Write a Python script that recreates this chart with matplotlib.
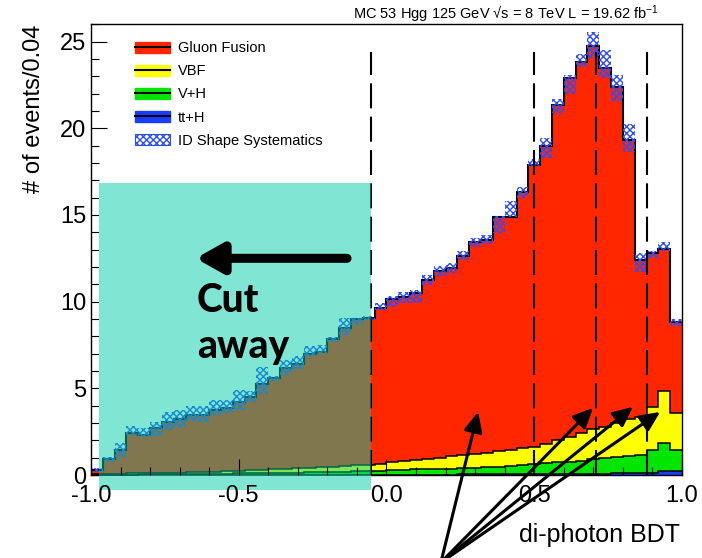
import numpy as np
import matplotlib
matplotlib.use("Agg")
import matplotlib.pyplot as plt
from matplotlib.patches import Patch, Rectangle
from matplotlib.lines import Line2D
from matplotlib.legend_handler import HandlerTuple
from matplotlib.ticker import MultipleLocator

plt.rcParams['font.family'] = ['Liberation Sans', 'DejaVu Sans']
plt.rcParams['mathtext.fontset'] = 'custom'
plt.rcParams['mathtext.rm'] = 'Liberation Sans'
plt.rcParams['mathtext.it'] = 'Liberation Sans:italic'
plt.rcParams['axes.unicode_minus'] = False
plt.rcParams['hatch.linewidth'] = 1.0

# di-photon BDT, 50 bins of 0.04 from -1 to 1
bdt_edges = np.linspace(-1.0, 1.0, 51)

# stack tops (cumulative): ggH on top of VBF on top of VH on top of ttH
stack_ggh = [0.28, 0.90, 1.44, 2.44, 2.31, 2.73, 3.04, 3.23, 3.46, 3.46,
             3.75, 3.85, 4.23, 4.52, 5.25, 5.58, 6.16, 6.39, 6.97, 7.12,
             7.83, 8.47, 8.99, 9.05, 9.62, 10.16, 10.25, 10.5, 11.26, 11.78,
             11.95, 12.65, 13.43, 13.57, 14.87, 14.9, 16.3, 17.9, 18.96, 21.32,
             22.9, 23.8, 24.73, 23.48, 22.4, 19.34, 12.41, 12.8, 13.05, 8.8]
stack_vbf = [0.05, 0.06, 0.07, 0.09, 0.1, 0.11, 0.13, 0.14, 0.16, 0.18,
             0.2, 0.22, 0.24, 0.27, 0.29, 0.32, 0.35, 0.38, 0.41, 0.44,
             0.48, 0.52, 0.56, 0.6, 0.64, 0.77, 0.8, 0.87, 0.92, 1.0,
             1.1, 1.15, 1.21, 1.29, 1.37, 1.44, 1.54, 1.63, 1.77, 2.02,
             2.21, 2.4, 2.64, 2.79, 2.98, 3.21, 3.33, 3.9, 4.87, 3.6]
stack_vh = [0.02, 0.02, 0.03, 0.03, 0.04, 0.04, 0.05, 0.05, 0.06, 0.07,
            0.07, 0.08, 0.09, 0.1, 0.11, 0.12, 0.13, 0.14, 0.15, 0.16,
            0.18, 0.2, 0.21, 0.23, 0.25, 0.29, 0.29, 0.33, 0.33, 0.37,
            0.37, 0.41, 0.41, 0.45, 0.45, 0.52, 0.58, 0.64, 0.68, 0.73,
            0.77, 0.83, 0.91, 0.96, 1.06, 1.1, 1.15, 1.44, 1.87, 1.44]
stack_tth = [0.01, 0.01, 0.01, 0.01, 0.01, 0.01, 0.01, 0.01, 0.01, 0.01,
             0.01, 0.01, 0.01, 0.01, 0.01, 0.01, 0.01, 0.01, 0.01, 0.01,
             0.01, 0.01, 0.01, 0.01, 0.02, 0.02, 0.02, 0.03, 0.03, 0.03,
             0.03, 0.04, 0.04, 0.04, 0.05, 0.05, 0.05, 0.06, 0.06, 0.06,
             0.07, 0.07, 0.08, 0.08, 0.09, 0.1, 0.1, 0.12, 0.25, 0.22]
# ID shape systematics band (up / down from stack top)
syst_up = [0.1, 0.15, 0.4, 0.4, 0.4, 0.35, 0.6, 0.5, 0.5, 0.5,
           0.6, 0.5, 0.7, 0.3, 1.0, 0.15, 0.5, 0.45, 0.45, 0.4,
           0.15, 0.6, 0.05, 0.1, 0.3, 0.15, 0.3, 0.2, 0.3, 0.3,
           0.3, 0.25, 0.25, 0.25, 0.05, 0.9, 0.3, 0.3, 0.5, 0.35,
           0.2, 0.5, 0.8, 1.05, 0.7, 0.9, 0.4, 0.1, 0.4, 0.2]
syst_dn = [0.1, 0.15, 0.4, 0.15, 0.1, 0.5, 0.45, 0.45, 0.35, 0.4,
           0.3, 0.3, 0.5, 0.3, 0.6, 0.15, 0.4, 0.25, 0.1, 0.1,
           0.15, 0.4, 0.35, 0.1, 0.1, 0.45, 0.3, 0.6, 0.3, 0.3,
           0.3, 0.25, 0.25, 0.25, 0.9, 0.0, 0.3, 0.1, 0.7, 0.45,
           0.9, 0.25, 0.7, 0.6, 0.8, 0.7, 0.7, 0.3, 0.15, 0.2]

cat_bounds = [-0.0525, 0.5, 0.71, 0.88]
cut_value = -0.0525

labels = ["Gluon Fusion", "VBF", "V+H", "tt+H", "ID Shape Systematics"]
c_ggh, c_vbf, c_vh, c_tth, c_sys = "#ff2600", "#ffff00", "#00e600", "#1a3cff", "#2b4cff"


def tint(c):
    # colour seen through the cyan box on the slide
    r, g, b = matplotlib.colors.to_rgb(c)
    return (r * 0.50, 0.39 + g * 0.51, 0.31 + b * 0.51)


def draw_stack(ax, col, zo, clip=None):
    arts = []
    tops = [stack_ggh, stack_vbf, stack_vh, stack_tth]
    fills = [c_ggh, c_vbf, c_vh, c_tth]
    for i in range(4):
        base = tops[i + 1] if i < 3 else 0
        arts.append(ax.stairs(tops[i], bdt_edges, baseline=base, fill=True,
                              color=col(fills[i]), lw=0, zorder=zo))
    for i in range(4):
        arts.append(ax.stairs(tops[i], bdt_edges, baseline=None,
                              color=col('k'), lw=1.5 if i == 0 else 1.1,
                              zorder=zo + 0.1))
    lo = np.array(stack_ggh) - np.array(syst_dn)
    hi = np.array(syst_up) + np.array(syst_dn)
    bars = ax.bar(bdt_edges[:-1], hi, width=0.04, bottom=lo, align='edge',
                  facecolor='none', edgecolor=col(c_sys), lw=0,
                  hatch='xxxxx', zorder=zo + 0.2)
    arts += list(bars.patches)
    arts.append(ax.vlines(cat_bounds, 0, 24.4, colors=[col('k')],
                          linestyles=(0, (12, 4)), lw=1.5, zorder=zo + 0.3))
    if clip is not None:
        for a in arts:
            a.set_clip_path(clip)
    return arts


fig = plt.figure(figsize=(7.02, 5.58), dpi=100)
ax = fig.add_axes([0.1296, 0.1487, 0.8419, 0.8078])

draw_stack(ax, lambda c: c, 1)

# cyan "cut away" box pasted on top
box = Rectangle((-0.973, -0.87), cut_value + 0.973, 16.86 + 0.87,
                facecolor="#80e6d4", edgecolor='none', zorder=3, clip_on=False)
ax.add_patch(box)
draw_stack(ax, tint, 3.2, clip=box)

ax.set_xlim(-1.0, 1.0)
ax.set_ylim(0, 26)
ax.xaxis.set_major_locator(MultipleLocator(0.5))
ax.xaxis.set_minor_locator(MultipleLocator(0.1))
ax.yaxis.set_major_locator(MultipleLocator(5))
ax.yaxis.set_minor_locator(MultipleLocator(1))
ax.xaxis.set_major_formatter(matplotlib.ticker.FormatStrFormatter('%.1f'))
ax.tick_params(which='both', direction='in', top=False, right=False,
               width=0.8, labelsize=17)
ax.tick_params(which='major', length=11.5)
ax.tick_params(axis='x', which='major', pad=7.5)
ax.tick_params(which='minor', length=5.8)
ax.xaxis.set_zorder(4)
for s in ax.spines.values():
    s.set_linewidth(1.0)

# big arrow and text
ax.annotate('', xy=(-0.655, 12.5), xytext=(-0.124, 12.5),
            arrowprops=dict(arrowstyle='-|>,head_length=0.8,head_width=0.45',
                            lw=6.5, color='k', mutation_scale=20),
            zorder=6)
ax.text(-0.641, 9.41, "Cut", family=['Lato', 'DejaVu Sans'], weight='black',
        fontsize=28, va='baseline', ha='left', zorder=6)
ax.text(-0.641, 6.76, "away", family=['Lato', 'DejaVu Sans'], weight='black',
        fontsize=28, va='baseline', ha='left', zorder=6)

# arrows from below pointing to the production modes
arrow_tips = [(0.31, 3.64), (0.699, 3.87), (0.834, 3.93), (0.926, 3.64)]
for tip in arrow_tips:
    ax.annotate('', xy=tip, xycoords='data', xytext=(0.628, -0.008),
                textcoords='figure fraction', annotation_clip=False,
                arrowprops=dict(arrowstyle='-|>,head_length=0.6,head_width=0.28',
                                lw=2.2, color='k', mutation_scale=20,
                                shrinkA=0, shrinkB=0), zorder=6)

fig.text(680 / 702, 1 - 535 / 558, "di-photon BDT", fontsize=18,
         ha='right', va='center')
fig.text(34 / 702, 1 - 25 / 558, "# of events/0.04", fontsize=17,
         rotation=90, ha='center', va='top')
fig.text(659 / 702, 1 - 14 / 558,
         r"MC 53 Hgg 125 GeV √s = 8 TeV L = 19.62 fb$^{-1}$",
         fontsize=10.5, ha='right', va='center')

# legend
handles = []
for c in [c_ggh, c_vbf, c_vh, c_tth]:
    handles.append((Patch(facecolor=c, edgecolor=c),
                    Line2D([], [], color='k', lw=1.5)))
handles.append(Patch(facecolor='white', edgecolor=c_sys, hatch='xxxxx', lw=0.8))
ax.legend(handles, labels, handler_map={tuple: HandlerTuple(ndivide=1)},
          loc='upper left', bbox_to_anchor=(0.065, 0.975), frameon=False,
          fontsize=10.5, handlelength=2.4, handleheight=0.85,
          labelspacing=0.62, handletextpad=0.55, borderaxespad=0)

fig.savefig("out.png", dpi=100)
